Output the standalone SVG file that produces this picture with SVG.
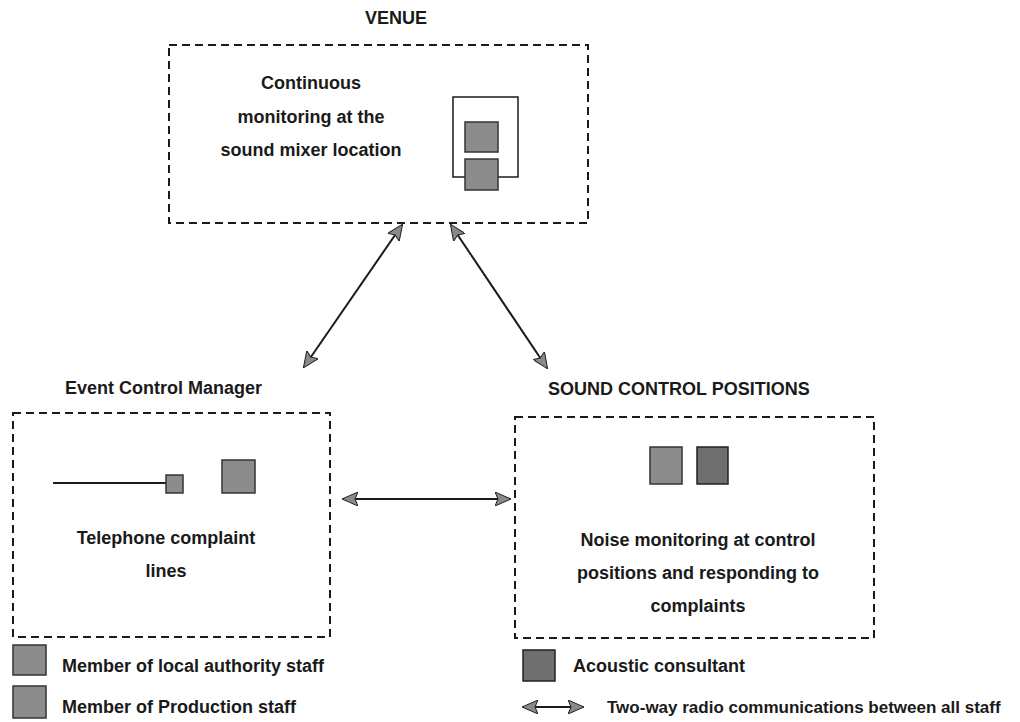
<svg xmlns="http://www.w3.org/2000/svg" width="1020" height="722" viewBox="0 0 1020 722">
<defs>
<style>
.t{font-family:"Liberation Sans",Arial,sans-serif;font-weight:bold;font-size:18px;fill:#1a1a1a}
.c{text-anchor:middle}
.box{fill:none;stroke:#1a1a1a;stroke-width:2;stroke-dasharray:8,5}
.sq{fill:#8c8c8c;stroke:#333;stroke-width:1.5}
.sqd{fill:#6f6f6f;stroke:#222;stroke-width:1.5}
.ln{stroke:#1a1a1a;stroke-width:2;fill:none}
</style>
<marker id="ah" viewBox="0 0 16 14" refX="15" refY="7" markerWidth="16" markerHeight="14" markerUnits="userSpaceOnUse" orient="auto-start-reverse">
<path d="M0,0 L16,7 L0,14 L3,7 Z" fill="#8a8a8a" stroke="#222" stroke-width="1"/>
</marker>
</defs>
<rect width="1020" height="722" fill="#fff"/>

<g id="venue">
<text class="t c" x="396" y="24">VENUE</text>
<rect class="box" x="169" y="45" width="419" height="178"/>
<text class="t c" x="311" y="89">Continuous</text>
<text class="t c" x="311" y="123">monitoring at the</text>
<text class="t c" x="311" y="156">sound mixer location</text>
<rect x="453" y="97" width="65" height="80" fill="#fff" stroke="#1a1a1a" stroke-width="1.5"/>
<rect class="sq" x="465" y="122" width="33" height="30"/>
<rect class="sq" x="465" y="159" width="33" height="31"/>
</g>

<g id="event-control">
<text class="t" x="65" y="394">Event Control Manager</text>
<rect class="box" x="13" y="413" width="317" height="224"/>
<line class="ln" x1="53" y1="483" x2="166" y2="483" stroke-width="1.5"/>
<rect class="sq" x="166" y="475" width="17" height="18"/>
<rect class="sq" x="222" y="460" width="33" height="33"/>
<text class="t c" x="166" y="544">Telephone complaint</text>
<text class="t c" x="166" y="577">lines</text>
</g>

<g id="sound-control">
<text class="t" x="548" y="395">SOUND CONTROL POSITIONS</text>
<rect class="box" x="515" y="417" width="359" height="221"/>
<rect class="sq" x="650" y="447" width="32" height="37"/>
<rect class="sqd" x="697" y="447" width="31" height="37"/>
<text class="t c" x="698" y="546">Noise monitoring at control</text>
<text class="t c" x="698" y="579">positions and responding to</text>
<text class="t c" x="698" y="612">complaints</text>
</g>

<g id="connectors">
<line class="ln" x1="402" y1="225" x2="304" y2="367" marker-start="url(#ah)" marker-end="url(#ah)"/>
<line class="ln" x1="451" y1="225" x2="547" y2="368" marker-start="url(#ah)" marker-end="url(#ah)"/>
<line class="ln" x1="343" y1="499" x2="510" y2="499" marker-start="url(#ah)" marker-end="url(#ah)"/>
</g>

<g id="legend">
<rect class="sq" x="13" y="645" width="33" height="30"/>
<text class="t" x="62" y="672">Member of local authority staff</text>
<rect class="sq" x="13" y="686" width="33" height="32"/>
<text class="t" x="62" y="713">Member of Production staff</text>
<rect class="sqd" x="523" y="650" width="32" height="31"/>
<text class="t" x="573" y="672">Acoustic consultant</text>
<line class="ln" x1="523" y1="707" x2="583" y2="707" marker-start="url(#ah)" marker-end="url(#ah)"/>
<text class="t" x="607" y="713" style="font-size:17px">Two-way radio communications between all staff</text>
</g>
</svg>
